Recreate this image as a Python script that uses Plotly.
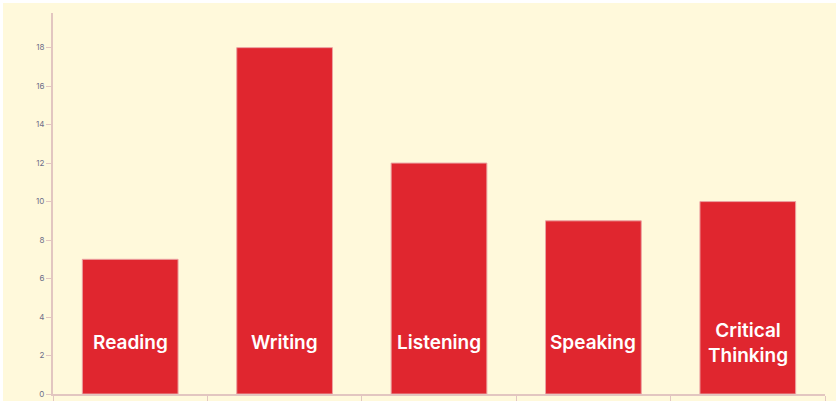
import plotly.graph_objects as go

categories = ["Reading", "Writing", "Listening", "Speaking", "Critical Thinking"]
values = [7, 18, 12, 9, 10]
bar_labels = ["Reading", "Writing", "Listening", "Speaking", "Critical<br>Thinking"]
y_ticks = [0, 2, 4, 6, 8, 10, 12, 14, 16, 18]

BG = "#FFF9DB"
BAR = "#E0262F"
AXIS = "#E2C6C0"

fig = go.Figure()
fig.add_trace(go.Bar(
    x=categories, y=values,
    marker=dict(color=BAR, line=dict(color="#EBA3A3", width=1)),
    hoverinfo="skip",
))

label_y = 2.67
for cat, lab in zip(categories, bar_labels):
    fig.add_annotation(
        x=cat, y=label_y, text=lab, showarrow=False,
        xanchor="center", yanchor="middle",
        font=dict(family="Inter, Roboto, sans-serif", size=19, color="white", weight=600),
    )

fig.update_layout(
    width=836, height=401,
    margin=dict(l=53, r=11, t=13, b=7, autoexpand=False),
    paper_bgcolor=BG, plot_bgcolor=BG,
    bargap=0.38,
    showlegend=False,
    font=dict(family="Inter, Roboto, sans-serif"),
)
fig.update_xaxes(
    type="category", showticklabels=False, showgrid=False, zeroline=False,
    showline=True, linecolor=AXIS, linewidth=2,
    ticks="outside", tickson="boundaries", ticklen=6, tickcolor=AXIS, tickwidth=1,
    automargin=False, fixedrange=True,
)
fig.update_yaxes(
    range=[0, 19.8], tickvals=y_ticks, showgrid=False, zeroline=False,
    showline=True, linecolor=AXIS, linewidth=2,
    ticks="outside", ticklen=5, tickcolor=AXIS, tickwidth=1,
    tickfont=dict(size=8, color="#6E6E88"),
    automargin=False, fixedrange=True,
)
# white screenshot border along the top and left edges
fig.add_shape(type="rect", xref="paper", yref="paper", x0=-0.2, x1=1.1, y0=1.0 + 10/381, y1=1.2,
              fillcolor="white", line=dict(width=0), layer="above")
fig.add_shape(type="rect", xref="paper", yref="paper", x0=-0.2, x1=-50/772, y0=-0.1, y1=1.2,
              fillcolor="white", line=dict(width=0), layer="above")

fig.write_html(
    "out.html",
    config={"displayModeBar": False},
    post_script="document.body.style.margin='0';document.body.style.overflow='hidden';",
)
